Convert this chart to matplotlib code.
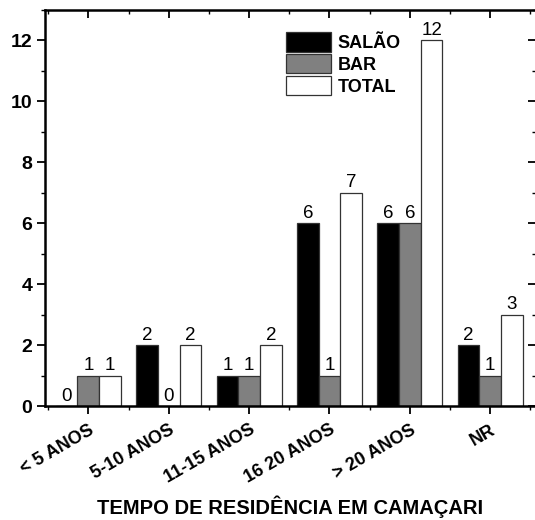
import numpy as np
import matplotlib.pyplot as plt
from matplotlib.ticker import MultipleLocator

# data
categorias = ["< 5 ANOS", "5-10 ANOS", "11-15 ANOS", "16 20 ANOS", "> 20 ANOS", "NR"]
salao = [0, 2, 1, 6, 6, 2]
bar = [1, 0, 1, 1, 6, 1]
total = [1, 2, 2, 7, 12, 3]

plt.rcParams['font.family'] = ['Liberation Sans', 'DejaVu Sans']

fig = plt.figure(figsize=(5.35, 5.2), dpi=100)
ax = fig.add_axes([0.084, 0.219, 0.918, 0.762])

x = np.arange(len(categorias))
w = 0.27
series = [(salao, "black", "SALÃO", -w), (bar, "#808080", "BAR", 0), (total, "white", "TOTAL", w)]
for vals, cor, nome, dx in series:
    b = ax.bar(x + dx, vals, w, color=cor, edgecolor="#333333", linewidth=0.9, label=nome)
    ax.bar_label(b, padding=1, fontsize=13.5)

ax.set_xlim(-0.54, 5.57)
ax.set_ylim(0, 13)
ax.set_xticks(x)
ax.set_xticklabels(categorias, rotation=30, ha="right", rotation_mode="anchor",
                   fontsize=13, fontweight="bold")
ax.xaxis.set_minor_locator(MultipleLocator(0.5))
ax.yaxis.set_major_locator(MultipleLocator(2))
ax.yaxis.set_minor_locator(MultipleLocator(1))
for lab in ax.get_yticklabels():
    lab.set_fontweight("bold")
ax.tick_params(axis="y", labelsize=14, pad=3)
ax.tick_params(axis="x", pad=5)
ax.tick_params(which="major", length=6, width=1.3)
ax.tick_params(which="minor", length=3, width=1.0)
ax.tick_params(top=True, right=True, which="both")
# top/right ticks point inward
for t in ax.xaxis.get_major_ticks() + ax.xaxis.get_minor_ticks():
    t.tick2line.set_marker(3)
for t in ax.yaxis.get_major_ticks() + ax.yaxis.get_minor_ticks():
    t.tick2line.set_marker(0)
for s in ax.spines.values():
    s.set_linewidth(1.8)

ax.set_xlabel("TEMPO DE RESIDÊNCIA EM CAMAÇARI", fontsize=14.5, fontweight="bold", labelpad=6)

leg = ax.legend(loc="upper left", bbox_to_anchor=(0.465, 0.975), frameon=False,
                handlelength=2.5, handleheight=1.25, handletextpad=0.35, labelspacing=0.12,
                borderpad=0.2, prop={"weight": "bold", "size": 13})

fig.savefig("out.png", dpi=100)
